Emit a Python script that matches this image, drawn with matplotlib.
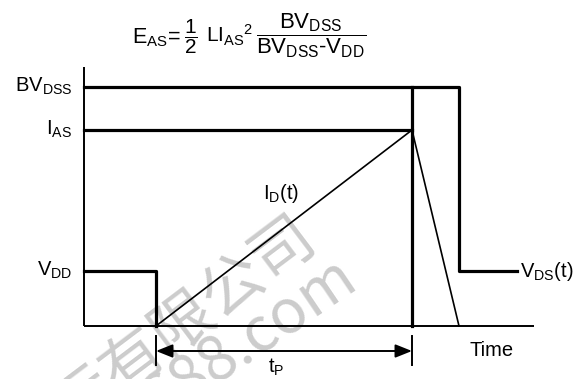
import matplotlib

matplotlib.use("Agg", force=True)
from matplotlib import pyplot as plt

plt.rcParams["font.family"] = ["Liberation Sans", "DejaVu Sans"]
plt.rcParams["mathtext.fontset"] = "custom"
plt.rcParams["mathtext.rm"] = "Liberation Sans"
plt.rcParams["mathtext.it"] = "Liberation Sans"
plt.rcParams["mathtext.default"] = "regular"

# time instants (pixel-like units from the vertical axis)
t_on = 72
t_off = 328
t_clamp = 375
t_vds_end = 433
t_end = 450

# signal levels (units above the time axis)
v_dd = 55
i_as = 196
bv_dss = 239
axis_top = 259
arrow_level = -25
tick_lo, tick_hi = -39, -10

level_labels = [r"$BV_{DSS}$", r"$I_{AS}$", r"$V_{DD}$"]
level_values = [bv_dss, i_as, v_dd]

# equation pieces: (text, x start, font size)
eq_parts = [
    (r"$E_{AS}\!=$", 48, 15.5),
    (r"$\dfrac{1}{2}$", 100, 15),
    (r"$LI_{AS}{}^{2}$", 122, 15),
    (r"$\dfrac{BV_{DSS}}{BV_{DSS}‐V_{DD}}$", 172, 16),
]
eq_baseline = 283

watermark = ["国际有限公司", "1688.com"]

THICK = 2.3
THIN = 1.4
FS = 14.5

fig = plt.figure(figsize=(5.87, 3.79), dpi=100)
ax = fig.add_axes([0, 0, 1, 1])
ax.set_xlim(-84, 503)
ax.set_ylim(-53, 326)
ax.axis("off")

# watermark
wm_font = ["Noto Sans CJK SC", "DejaVu Sans"]
ax.text(224, 98, watermark[0], rotation=37, rotation_mode="anchor", ha="right", va="center",
        fontsize=45, color="#cccccc", family=wm_font, fontweight="medium", zorder=0)
ax.text(266, 56, watermark[1], rotation=34, rotation_mode="anchor", ha="right", va="center",
        fontsize=44, color="#cccccc", family=wm_font, fontweight="medium", zorder=0)

# axes
ax.plot([0, 0], [0, axis_top], color="black", lw=THIN, solid_capstyle="butt")
ax.plot([0, t_end], [0, 0], color="black", lw=THIN, solid_capstyle="butt")

# levels and waveforms
ax.plot([0, t_clamp, t_clamp, t_vds_end], [bv_dss, bv_dss, v_dd, v_dd], color="black", lw=THICK)
ax.plot([0, t_off], [i_as, i_as], color="black", lw=THICK)
ax.plot([0, t_on, t_on], [v_dd, v_dd, 0], color="black", lw=THICK)
ax.plot([t_off, t_off], [0, bv_dss], color="black", lw=THICK)
ax.plot([t_on, t_off, t_clamp], [0, i_as, 0], color="black", lw=1.2)

# pulse width arrow
for t in (t_on, t_off):
    ax.plot([t, t], [tick_lo, tick_hi], color="black", lw=THIN)
ax.annotate("", xy=(t_on, arrow_level), xytext=(t_off, arrow_level),
            arrowprops=dict(arrowstyle="<|-|>,head_length=1.0,head_width=0.4", color="black",
                            lw=THIN, shrinkA=0, shrinkB=0))

for label, value in zip(level_labels, level_values):
    ax.text(-12, value - 5, label, ha="right", va="baseline", fontsize=FS)

ax.text(179, 127, r"$I_{D}(t)$", ha="left", va="baseline", fontsize=FS)
ax.text(436, v_dd - 6, r"$V_{DS}(t)$", ha="left", va="baseline", fontsize=FS)
ax.text(386, -30, "Time", ha="left", va="baseline", fontsize=FS)
ax.text(184, -47, r"$t_{P}$", ha="left", va="baseline", fontsize=FS)
for text, x, size in eq_parts:
    ax.text(x, eq_baseline, text, ha="left", va="baseline", fontsize=size)

fig.savefig("out.png", dpi=100)
